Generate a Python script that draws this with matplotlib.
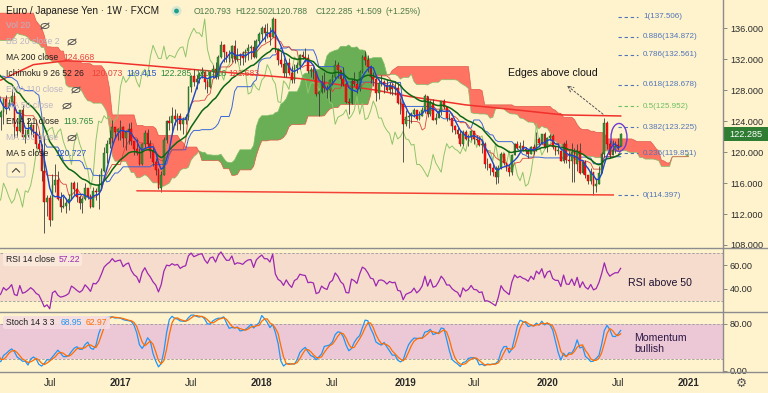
import matplotlib
matplotlib.use("Agg")
import matplotlib.pyplot as plt
import matplotlib.dates as mdates
from matplotlib.patches import Ellipse, Circle, Rectangle, FancyBboxPatch
from matplotlib.ticker import FormatStrFormatter
from matplotlib.transforms import blended_transform_factory
import numpy as np
import pandas as pd

plt.rcParams['font.family'] = ['Liberation Sans', 'DejaVu Sans']

# ---------------- data: weekly EUR/JPY (high, low, close), open = previous close
first_week = "2014-08-04"
first_open = 137.3

hlc_2014 = [
    (137.6, 135.7, 136.9), (137.2, 135.9, 136.6), (138.0, 136.5, 137.9), (138.0, 136.6, 136.9),
    (137.6, 135.3, 136.1), (139.3, 135.9, 139.0), (140.6, 138.3, 139.2), (139.5, 137.9, 138.6), (139.0, 137.0, 137.0),
    (138.5, 136.0, 136.6), (137.0, 133.2, 135.8), (137.6, 135.4, 136.9), (140.4, 135.8, 140.4),
    (142.9, 140.1, 142.6), (145.9, 142.2, 144.9), (146.4, 143.3, 146.4), (147.3, 145.9, 147.3),
    (149.2, 146.3, 148.6), (149.8, 145.4, 146.9), (147.8, 143.7, 146.2), (146.9, 145.2, 145.6), (146.1, 143.3, 143.8),
]
hlc_2015 = [
    (144.0, 140.0, 140.1), (141.0, 133.5, 135.0), (137.8, 131.3, 132.6), (134.5, 130.1, 133.0),
    (136.4, 132.3, 134.2), (135.8, 133.2, 135.3), (136.5, 134.0, 135.2), (136.0, 133.1, 134.2),
    (134.6, 130.2, 130.4), (130.8, 126.9, 128.6), (130.3, 126.9, 130.2), (131.4, 129.0, 130.0), (130.9, 127.8, 130.0),
    (131.1, 127.3, 127.5), (128.8, 126.1, 129.0), (130.5, 127.8, 130.0), (134.3, 129.8, 134.3),
    (135.8, 133.0, 134.3), (137.0, 133.3, 136.8), (137.3, 133.3, 134.8), (136.1, 133.7, 135.4),
    (141.1, 135.3, 139.2), (140.9, 136.9, 138.5), (140.0, 138.0, 139.6), (140.1, 136.6, 137.4), (137.5, 133.3, 134.4),
    (137.4, 132.2, 136.6), (137.9, 134.1, 134.8), (136.6, 134.3, 136.1), (137.4, 135.5, 136.3),
    (137.2, 134.9, 135.9), (139.2, 135.8, 138.8), (139.9, 136.1, 137.9), (140.0, 130.5, 135.2), (137.2, 133.4, 133.4),
    (136.4, 132.8, 135.8), (137.3, 134.0, 134.4), (136.0, 132.2, 134.6), (135.3, 133.0, 134.2),
    (136.4, 133.4, 135.6), (137.0, 134.0, 136.0), (136.5, 132.4, 132.9), (134.0, 131.8, 132.7),
    (133.4, 131.6, 131.6), (132.9, 131.2, 132.2), (132.2, 130.7, 131.5), (131.1, 129.7, 130.0), (134.2, 129.7, 133.4),
    (134.2, 132.3, 133.4), (134.7, 131.7, 131.8), (133.5, 131.3, 132.2), (132.9, 129.7, 130.3),
]
hlc_2016 = [
    (130.9, 126.7, 128.0), (130.4, 127.5, 127.6), (129.1, 126.0, 128.5), (131.7, 128.1, 131.5),
    (131.7, 128.4, 130.2), (130.4, 125.0, 127.5), (128.2, 125.2, 125.5), (126.1, 122.3, 124.5), (125.5, 122.9, 125.2),
    (127.0, 123.6, 126.9), (127.4, 124.9, 125.8), (126.8, 125.5, 126.4), (128.2, 125.9, 127.3),
    (127.7, 121.8, 123.2), (124.0, 121.9, 122.7), (125.5, 122.6, 125.5), (126.1, 121.7, 121.9),
    (123.0, 121.2, 122.2), (124.4, 122.0, 122.8), (123.9, 122.2, 123.5), (123.4, 122.0, 122.6), (124.3, 120.5, 121.1),
    (122.7, 120.0, 120.4), (121.0, 116.3, 117.6), (122.1, 109.6, 113.6), (114.5, 111.8, 114.1),
    (114.4, 110.5, 111.2), (117.2, 111.2, 115.8), (118.4, 114.9, 116.4), (117.5, 113.8, 114.0),
    (114.9, 112.2, 112.9), (114.3, 112.8, 113.1), (114.1, 112.1, 113.4), (114.6, 112.5, 113.9), (116.2, 113.8, 116.0),
    (116.3, 114.5, 115.2), (116.2, 113.6, 114.2), (114.5, 112.6, 113.4), (114.2, 112.1, 113.9),
    (116.0, 113.8, 115.3), (115.1, 113.9, 114.3), (114.6, 112.8, 112.9), (115.5, 112.9, 115.0), (115.3, 113.8, 114.8),
    (117.2, 112.7, 115.7), (118.0, 115.5, 117.5), (120.6, 117.4, 119.9), (121.6, 118.6, 121.0),
    (122.9, 120.5, 121.8), (124.1, 121.2, 123.3), (123.2, 121.8, 122.6), (123.1, 121.6, 123.0),
]
hlc_2017 = [
    (124.1, 121.6, 123.2), (123.4, 120.6, 121.8), (122.9, 120.3, 122.6), (123.8, 121.1, 123.0), (123.9, 120.9, 121.4),
    (121.4, 119.6, 120.4), (121.7, 119.6, 119.9), (120.5, 118.3, 118.4), (121.2, 118.3, 121.1),
    (122.8, 120.5, 122.5), (123.0, 120.6, 121.1), (121.5, 119.3, 120.1), (120.7, 118.2, 118.7),
    (119.3, 117.0, 117.7), (118.0, 115.2, 115.3), (117.5, 114.8, 117.1), (122.0, 119.0, 121.5),
    (124.2, 121.2, 124.0), (124.6, 122.8, 123.8), (125.8, 122.4, 124.7), (125.6, 123.5, 124.3), (125.0, 122.9, 124.6),
    (125.0, 122.9, 123.6), (124.5, 122.4, 124.2), (124.9, 123.6, 124.5), (128.6, 124.1, 128.4),
    (130.0, 127.8, 129.8), (130.8, 128.5, 129.0), (130.0, 128.1, 129.5), (130.4, 128.9, 130.1), (131.0, 129.6, 130.3),
    (130.3, 128.2, 129.1), (129.5, 127.6, 128.4), (130.5, 128.3, 130.3), (131.2, 129.6, 130.7),
    (131.7, 129.4, 129.7), (132.6, 129.4, 132.3), (134.4, 132.2, 133.8), (134.0, 131.7, 132.9),
    (132.9, 131.6, 132.1), (133.2, 131.6, 132.1), (133.8, 131.6, 133.7), (134.5, 131.5, 132.0), (133.4, 131.8, 132.5),
    (132.8, 131.2, 132.4), (133.0, 131.2, 132.2), (133.3, 131.6, 133.0), (134.0, 131.9, 133.5),
    (133.9, 132.0, 133.6), (134.5, 132.1, 132.3), (134.6, 132.2, 134.4), (135.5, 134.0, 135.3),
]
hlc_2018 = [
    (136.3, 134.5, 136.0), (136.6, 134.2, 135.4), (136.7, 134.8, 135.4), (136.2, 133.8, 134.9), (137.5, 134.9, 137.2),
    (137.1, 132.9, 133.3), (133.4, 131.3, 131.9), (132.9, 131.0, 131.4), (132.1, 129.7, 130.2),
    (131.9, 129.7, 131.5), (132.1, 129.9, 130.2), (131.1, 128.9, 129.3), (131.4, 128.9, 130.9),
    (131.7, 130.2, 131.3), (132.7, 130.8, 132.5), (133.0, 132.0, 132.3), (133.5, 131.7, 132.2), (132.7, 130.2, 130.5),
    (131.0, 129.7, 130.6), (131.0, 129.4, 130.4), (130.5, 127.3, 127.5), (127.9, 124.6, 127.7),
    (130.0, 127.6, 128.9), (130.4, 127.7, 128.3), (128.7, 127.0, 128.0), (129.4, 126.6, 129.3),
    (130.1, 128.7, 129.7), (131.9, 129.5, 131.3), (131.7, 129.6, 130.6), (130.5, 128.6, 129.4), (131.0, 128.5, 128.8),
    (129.1, 126.4, 126.5), (127.0, 124.9, 126.4), (129.4, 126.2, 129.2), (130.3, 128.5, 128.8),
    (129.3, 127.6, 128.1), (130.6, 127.9, 130.3), (132.5, 130.2, 132.3), (133.1, 131.3, 131.9),
    (132.5, 130.4, 131.0), (131.2, 128.9, 129.7), (130.3, 128.5, 129.5), (129.7, 126.6, 127.6), (129.5, 126.9, 128.9),
    (129.9, 128.5, 129.0), (129.3, 127.6, 128.7), (129.5, 127.9, 128.0), (129.1, 127.5, 128.5),
    (128.9, 127.4, 128.2), (129.2, 127.4, 128.3), (128.9, 126.2, 126.4), (127.0, 124.9, 126.2), (126.3, 118.7, 123.6),
]
hlc_2019 = [
    (125.5, 123.4, 124.5), (125.0, 123.1, 124.7), (125.2, 123.7, 124.9), (125.7, 124.5, 125.5),
    (125.5, 124.1, 124.3), (125.3, 124.1, 124.7), (125.8, 124.7, 125.4), (127.5, 125.0, 127.2),
    (127.2, 124.5, 124.9), (126.7, 124.6, 126.3), (126.8, 124.2, 124.2), (125.0, 123.6, 124.4),
    (125.6, 124.4, 125.3), (126.6, 124.8, 126.6), (126.8, 125.6, 125.8), (126.0, 124.0, 124.4), (125.0, 124.1, 124.4),
    (124.4, 122.6, 123.4), (123.5, 122.4, 122.8), (123.3, 121.8, 122.4), (122.8, 120.8, 121.0),
    (122.8, 120.8, 122.6), (122.8, 121.6, 121.7), (122.4, 120.8, 122.0), (122.8, 121.6, 122.7),
    (122.6, 121.0, 121.7), (122.2, 121.3, 121.6), (121.9, 120.8, 120.9), (121.4, 119.9, 121.0), (121.3, 118.0, 118.4),
    (119.2, 117.7, 118.4), (118.6, 117.0, 118.0), (118.6, 116.9, 117.4), (118.2, 115.9, 116.8),
    (118.3, 116.0, 117.9), (120.0, 117.8, 119.7), (119.9, 118.3, 118.6), (118.6, 117.6, 118.0), (118.4, 116.9, 117.4),
    (119.7, 117.1, 119.6), (121.2, 119.6, 121.1), (121.4, 120.4, 120.5), (121.3, 120.1, 120.8),
    (121.5, 120.2, 120.4), (120.6, 119.7, 120.2), (120.4, 119.3, 119.8), (120.8, 119.8, 120.7),
    (121.1, 119.7, 120.1), (122.6, 120.1, 121.7), (122.0, 121.0, 121.2), (122.3, 121.1, 122.3), (122.6, 120.5, 120.6),
]
hlc_2020 = [
    (121.9, 120.0, 121.8), (122.4, 121.6, 122.1), (122.4, 120.4, 120.6), (120.6, 119.6, 120.2),
    (121.2, 119.8, 120.2), (120.3, 118.9, 118.9), (121.3, 118.6, 121.1), (121.6, 118.6, 119.0),
    (120.0, 118.0, 118.9), (121.2, 116.1, 120.0), (120.5, 116.1, 118.4), (121.1, 117.5, 120.2), (121.2, 117.2, 117.3),
    (119.0, 117.2, 118.7), (119.0, 116.7, 117.0), (117.1, 115.9, 116.3), (117.9, 115.9, 117.4),
    (117.2, 114.4, 115.6), (116.6, 114.8, 115.9), (118.2, 115.9, 117.3), (120.0, 117.3, 119.7),
    (124.4, 119.4, 123.7), (124.0, 120.4, 121.0), (121.6, 119.3, 119.6), (121.5, 119.7, 120.3), (121.4, 119.9, 120.8),
    (121.8, 120.3, 120.793), (122.502, 120.788, 122.285),
]

# 200-week MA (sparse)
ma200_dates = ["2016-02-29", "2016-05-23", "2016-08-15", "2016-12-05", "2017-04-24", "2017-12-11",
               "2018-04-09", "2018-05-28", "2018-10-22", "2019-01-14", "2019-06-10", "2019-10-28",
               "2020-02-17", "2020-07-13"]
ma200_values = [129.3, 131.3, 131.8, 131.6, 131.0, 130.0, 129.5, 129.1, 128.0, 127.2, 126.1, 125.4,
                124.8, 124.668]

fib_low, fib_high = 114.397, 137.506
fib_ratios = [1, 0.886, 0.786, 0.618, 0.5, 0.382, 0.236, 0]

support_dates = ["2017-02-14", "2020-06-24"]
support_prices = [115.0, 114.46]

tick_dates = ["2016-07-04", "2017-01-02", "2017-07-03", "2018-01-01", "2018-07-02",
              "2019-01-07", "2019-07-01", "2020-01-06", "2020-07-06", "2021-01-04"]
tick_labels = ["Jul", "2017", "Jul", "2018", "Jul", "2019", "Jul", "2020", "Jul", "2021"]

# ---------------- colours / layout
BG = '#FFF3CE'
UP, DOWN = '#359235', '#FF1010'
RED_TXT, BLUE_TXT, GREEN_TXT = '#E8453C', '#2455C3', '#2E8B3A'
FADED = '#B9B4C4'
W, H = 768, 393
PX_PER_DAY = 0.3884
X0 = mdates.date2num(pd.Timestamp("2016-02-27"))
SHIFT = 25


def px_to_x(px):
    return X0 + px / PX_PER_DAY


def fig_box(x0, y0, x1, y1):
    return [x0 / W, 1 - y1 / H, (x1 - x0) / W, (y1 - y0) / H]


# ---------------- series + indicators
hlc = np.array(hlc_2014 + hlc_2015 + hlc_2016 + hlc_2017 + hlc_2018 + hlc_2019 + hlc_2020)
high, low, close = hlc[:, 0], hlc[:, 1], hlc[:, 2]
n = len(close)
dates = pd.date_range(first_week, periods=n, freq="W-MON")
assert dates[-1] == pd.Timestamp("2020-07-13"), dates[-1]
opn = np.r_[first_open, close[:-1]]
high = np.maximum(high, np.maximum(opn, close))
low = np.minimum(low, np.minimum(opn, close))

h, l, c = pd.Series(high), pd.Series(low), pd.Series(close)
ma5 = c.rolling(5).mean()
ema21 = c.ewm(span=21, adjust=False).mean()
tenkan = (h.rolling(9).max() + l.rolling(9).min()) / 2
kijun = (h.rolling(26).max() + l.rolling(26).min()) / 2
span_a = ((tenkan + kijun) / 2).values
span_b = ((h.rolling(52).max() + l.rolling(52).min()) / 2).values

delta = c.diff()
gain = delta.clip(lower=0).ewm(alpha=1 / 14, adjust=False).mean()
loss = (-delta.clip(upper=0)).ewm(alpha=1 / 14, adjust=False).mean()
rsi = 100 - 100 / (1 + gain / loss)
raw_k = 100 * (c - l.rolling(14).min()) / (h.rolling(14).max() - l.rolling(14).min())
stoch_k = raw_k.rolling(3).mean()
stoch_d = stoch_k.rolling(3).mean()

x = mdates.date2num(dates)
ext = pd.date_range(first_week, periods=n + SHIFT, freq="W-MON")
xs = mdates.date2num(ext[SHIFT:])

# ---------------- figure
fig = plt.figure(figsize=(W / 100, H / 100), dpi=100, facecolor=BG)
ax = fig.add_axes(fig_box(0, 0, 723, 248))
ax_rsi = fig.add_axes(fig_box(0, 248, 723, 312), sharex=ax)
ax_st = fig.add_axes(fig_box(0, 312, 723, 372), sharex=ax)
for a in (ax, ax_rsi, ax_st):
    a.set_facecolor(BG)
    for s in a.spines.values():
        s.set_visible(False)
    a.yaxis.tick_right()
    a.tick_params(axis='y', direction='out', length=3, width=0.6, color='#777777',
                  labelsize=6.6, labelcolor='#2a2a2a', pad=2)
    a.tick_params(axis='x', length=0)

# ichimoku cloud
ax.fill_between(xs, span_a, span_b, where=span_a >= span_b, interpolate=True,
                color='#6AAF55', lw=0, zorder=1)
ax.fill_between(xs, span_a, span_b, where=span_a < span_b, interpolate=True,
                color='#FF7363', lw=0, zorder=1)
ax.plot(xs, span_a, color='#7fbf6a', lw=0.5, zorder=1.5)
ax.plot(xs, span_b, color='#e0584a', lw=0.5, zorder=1.5)

# lagging span, MA200, conversion/base lines
ax.plot(x[:-SHIFT], close[SHIFT:], color='#8fc46a', lw=0.7, zorder=2)
ax.plot(mdates.date2num(pd.to_datetime(ma200_dates)), ma200_values, color='#F0302A', lw=1.1, zorder=2)
ax.plot(x, kijun, color='#3a66d6', lw=0.7, zorder=3)
ax.plot(x, tenkan, color='#d9453c', lw=0.6, zorder=3)

# candles
up = close >= opn
body_lo = np.minimum(opn, close)
body_h = np.maximum(np.abs(close - opn), 0.06)
ax.vlines(x, low, high, color='#3c3c3c', lw=0.6, zorder=4)
ax.bar(x[up], body_h[up], bottom=body_lo[up], width=4.4, color=UP,
       edgecolor='#1e5e1e', lw=0.3, zorder=5)
ax.bar(x[~up], body_h[~up], bottom=body_lo[~up], width=4.4, color=DOWN,
       edgecolor='#b00000', lw=0.3, zorder=5)

ax.plot(x, ema21, color='#0d6614', lw=1.1, zorder=6)
ax.plot(x, ma5, color='#1d46c9', lw=1.0, zorder=6)

# support line, fibonacci, annotations
ax.plot(mdates.date2num(pd.to_datetime(support_dates)), support_prices, color='#F44336', lw=1.1, zorder=6)
for r in fib_ratios:
    p = fib_low + r * (fib_high - fib_low)
    col = '#6ABF5F' if r == 0.5 else '#4F74B8'
    ax.plot([px_to_x(618), px_to_x(638)], [p, p], color=col, lw=0.8, ls=(0, (3, 2.5)), zorder=6)
    ax.text(px_to_x(643), p, f"{r:g}({p:.3f})", color=col, fontsize=5.8, va='center', ha='left', zorder=7)

ax.add_patch(Ellipse((px_to_x(619), 121.9), 16 / PX_PER_DAY, 3.6, fill=False,
                     edgecolor='#6C3BD1', lw=1.0, zorder=7))
ax.annotate('', xy=(px_to_x(567), 128.6), xytext=(px_to_x(603), 124.9),
            arrowprops=dict(arrowstyle='->', ls=(0, (2, 2)), color='#555555', lw=0.7,
                            shrinkA=0, shrinkB=0), zorder=7)

ax.set_xlim(X0, X0 + 723 / PX_PER_DAY)
ax.set_ylim(107.61, 139.65)
ax.set_yticks(np.arange(108, 137, 4))
ax.yaxis.set_major_formatter(FormatStrFormatter('%.3f'))

# current price tag
bt = blended_transform_factory(ax.transAxes, ax.transData)
ax.add_patch(Rectangle((1.0, close[-1] - 0.9), 45 / 723, 1.8, transform=bt, clip_on=False,
                       facecolor='#2E7D32', edgecolor='none', zorder=10))
ax.text(1.0 + 6 / 723, close[-1], f"{close[-1]:.3f}", transform=bt, color='white',
        fontsize=6.6, va='center', ha='left', zorder=11, clip_on=False)

# RSI pane
ax_rsi.axhspan(30, 70, color='#F6DCCD', lw=0, zorder=0)
for v in (30, 70):
    ax_rsi.axhline(v, color='#9a9a9a', lw=0.6, ls=(0, (3, 2)))
ax_rsi.plot(x, rsi, color='#9C27B0', lw=0.9)
ax_rsi.set_ylim(20.83, 74.17)
ax_rsi.set_yticks([40, 60])
ax_rsi.yaxis.set_major_formatter(FormatStrFormatter('%.2f'))

# Stoch pane
ax_st.axhspan(20, 80, color='#ECC8D6', lw=0, zorder=0)
for v in (20, 80):
    ax_st.axhline(v, color='#9a9a9a', lw=0.6, ls=(0, (3, 2)))
ax_st.plot(x, stoch_k, color='#2196F3', lw=0.9)
ax_st.plot(x, stoch_d, color='#FF6D00', lw=0.9)
ax_st.set_ylim(-2.29, 100.57)
ax_st.set_yticks([0, 80])
ax_st.yaxis.set_major_formatter(FormatStrFormatter('%.2f'))

ax_st.set_xticks(mdates.date2num(pd.to_datetime(tick_dates)))
ax_st.set_xticklabels(tick_labels)
ax_st.tick_params(axis='x', labelsize=7, labelcolor='#2a2a2a', pad=4.5)
for lbl in ax_st.get_xticklabels():
    if lbl.get_text().isdigit():
        lbl.set_fontweight('bold')
ax.tick_params(axis='x', labelbottom=False)
ax_rsi.tick_params(axis='x', labelbottom=False)
ax.set_xlim(X0, X0 + 723 / PX_PER_DAY)

# ---------------- overlay in pixel coordinates
ov = fig.add_axes([0, 0, 1, 1], zorder=20)
ov.set_xlim(0, W)
ov.set_ylim(H, 0)
ov.axis('off')
ov.patch.set_alpha(0)

for yy in (248, 312, 372):
    ov.plot([0, W], [yy, yy], color='#8c8c8c', lw=1.0)
ov.plot([723, 723], [0, 372], color='#8c8c8c', lw=1.0)

ov.text(6, 11, "Euro / Japanese Yen · 1W · FXCM", fontsize=7.2, color='#1a1a1a', va='center')
ov.add_patch(Circle((176.5, 11), 5, facecolor='#d6e6cf', edgecolor='none'))
ov.add_patch(Circle((176.5, 11), 2.4, facecolor='#1e9e8c', edgecolor='none'))
ohlc_parts = [(194, "O120.793"), (235.5, "H122.502"), (271.5, "L120.788"),
              (316, "C122.285"), (356, "+1.509"), (385, "(+1.25%)")]
for xp, t in ohlc_parts:
    ov.text(xp, 11, t, fontsize=6.2, color='#4C7A45', va='center')

legend_rows = [
    ("Vol 20", None, 45),
    ("BB 20 close 2", None, 72),
    ("MA 200 close", [(63, "124.668", RED_TXT)], None),
    ("Ichimoku 9 26 52 26", [(91, "120.073", RED_TXT), (126, "119.415", BLUE_TXT),
                             (160, "122.285", GREEN_TXT), (195, "120.316", GREEN_TXT),
                             (228, "121.683", RED_TXT)], None),
    ("EMA 110 close", None, 76),
    ("MA 50 close", None, 67),
    ("EMA 21 close", [(63, "119.765", GREEN_TXT)], None),
    ("MA 100 close", None, 72),
    ("MA 5 close", [(55, "120.727", BLUE_TXT)], None),
]
for i, (name, vals, eye) in enumerate(legend_rows):
    yy = 26 + 16 * i
    ov.text(6, yy, name, fontsize=6.2, va='center', color=FADED if vals is None else '#1f1f1f')
    if vals:
        for xp, t, col in vals:
            ov.text(xp, yy, t, fontsize=6.2, va='center', color=col)
    else:
        ov.add_patch(Ellipse((eye, yy), 8, 5, fill=False, edgecolor='#555555', lw=0.7))
        ov.plot([eye - 4, eye + 4], [yy + 3, yy - 3], color='#555555', lw=0.7)

ov.add_patch(FancyBboxPatch((7, 163), 18, 14, boxstyle="round,pad=0,rounding_size=2",
                            facecolor=BG, edgecolor='#cfcfcf', lw=0.8))
ov.plot([12.5, 16, 19.5], [172, 168.5, 172], color='#444444', lw=0.8)

ov.add_patch(FancyBboxPatch((3, 253), 79, 13, boxstyle="round,pad=0,rounding_size=2",
                            facecolor='#FBEADC', edgecolor='none', alpha=0.9))
ov.text(6, 259.5, "RSI 14 close", fontsize=6.2, va='center', color='#1f1f1f')
ov.text(59, 259.5, "57.22", fontsize=6.2, va='center', color='#9C27B0')
ov.add_patch(FancyBboxPatch((3, 316), 107, 13, boxstyle="round,pad=0,rounding_size=2",
                            facecolor='#F6DCE2', edgecolor='none', alpha=0.9))
ov.text(6, 322.5, "Stoch 14 3 3", fontsize=6.2, va='center', color='#1f1f1f')
ov.text(61, 322.5, "68.95", fontsize=6.2, va='center', color='#2196F3')
ov.text(86, 322.5, "62.97", fontsize=6.2, va='center', color='#FF6D00')

ov.text(553, 73, "Edges above cloud", fontsize=7.6, ha='center', va='center', color='#111111')
ov.text(660, 283, "RSI above 50", fontsize=7.6, ha='center', va='center', color='#1c1030')
ov.text(634, 338, "Momentum", fontsize=7.6, ha='left', va='center', color='#2d1746')
ov.text(634, 349, "bullish", fontsize=7.6, ha='left', va='center', color='#2d1746')

ov.text(741, 383, "\u2699", fontsize=9, ha='center', va='center', color='#555555',
        family='DejaVu Sans')

fig.savefig("out.png", dpi=100, facecolor=BG)
